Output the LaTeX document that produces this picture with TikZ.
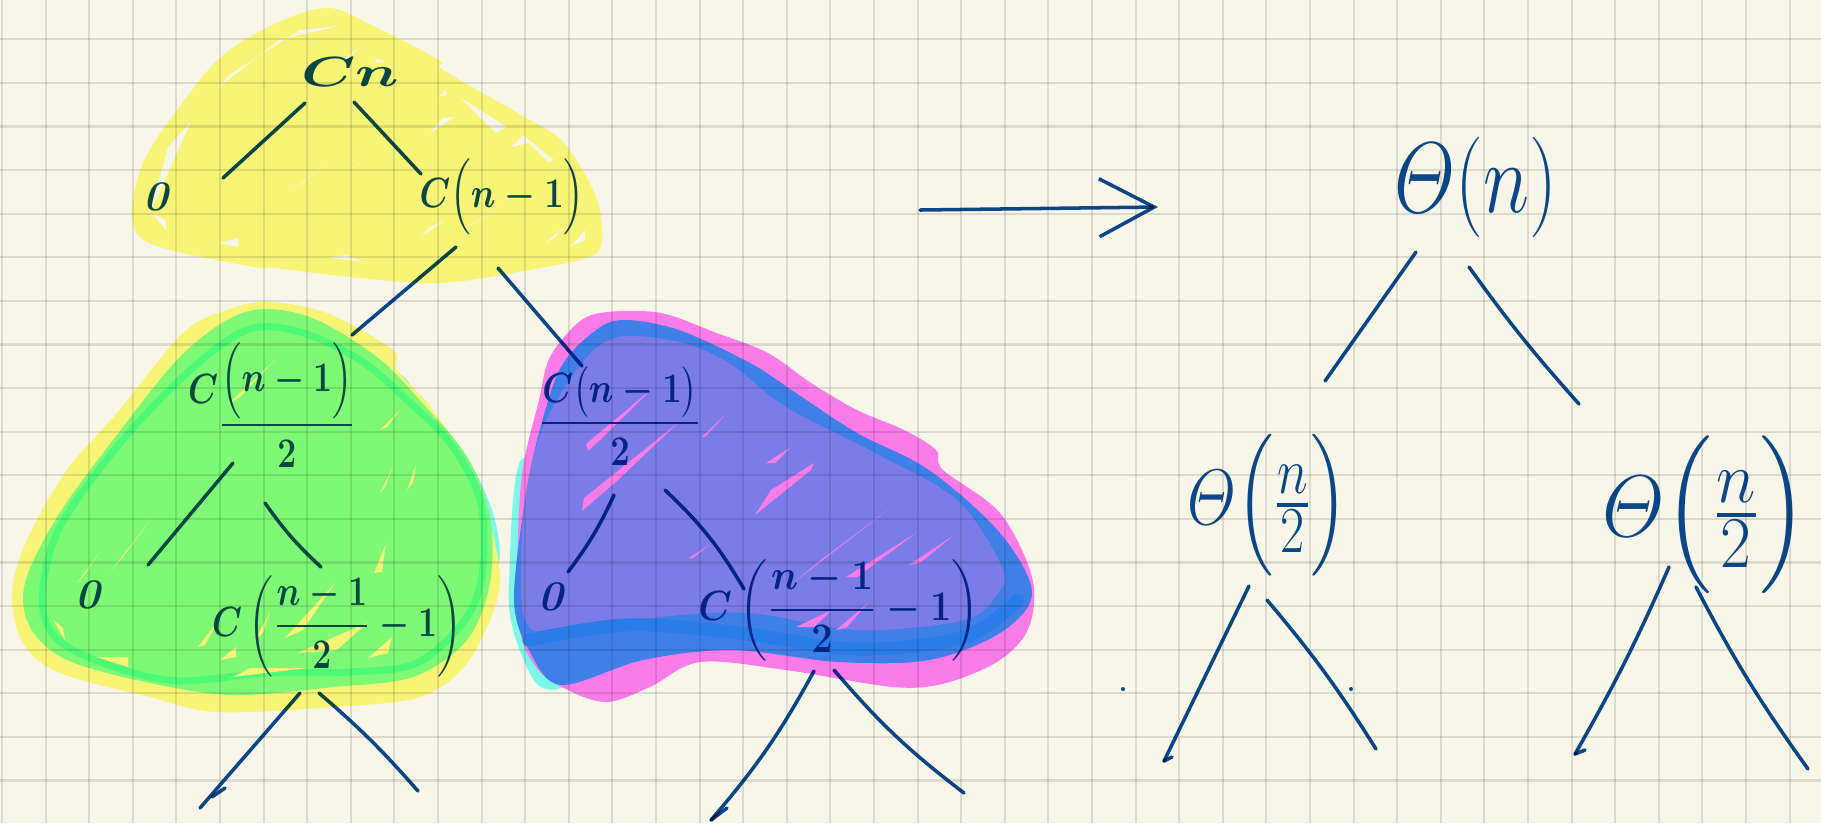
\documentclass[tikz,border=0pt]{standalone}
\usepackage{amsmath}
\usepackage{xcolor}
\usetikzlibrary{arrows.meta, calc}
\definecolor{papel}{HTML}{F8F5E9}
\definecolor{tinta}{HTML}{0C4A94}
\definecolor{amarillo}{HTML}{F7F476}
\definecolor{verde}{HTML}{7DF975}
\definecolor{verdeborde}{HTML}{4EF976}
\definecolor{cian}{HTML}{7CF7E8}
\definecolor{rosa}{HTML}{F97CE8}
\definecolor{azulborde}{HTML}{3F7FE8}
\definecolor{azul}{HTML}{7B7CE8}
\definecolor{azulfuerte}{HTML}{2A7DE8}

\begin{document}
\begin{tikzpicture}[
        x=0.01cm,
        y=-0.01cm,
        rejilla/.style={
            black,
            opacity=0.11,
            line width=0.6pt
        },
        rama/.style={
            draw=tinta,
            line width=1pt,
            line cap=round
        },
        flecha/.style={
            rama,
            -{Straight Barb[length=5.5mm,width=5.8mm]}
        },
        letra/.style={
            text=tinta,
            inner sep=0pt,
            font=\large\boldmath
        },
        letragrande/.style={
            text=tinta,
            inner sep=0pt,
            font=\Huge
        },
        punto/.style={
            circle,
            fill=tinta,
            inner sep=0pt,
            minimum size=0.4mm
        }
    ]

    \useasboundingbox (0,0) rectangle (1821,823);
    \clip (0,0) rectangle (1821,823);
    \fill[papel] (0,0) rectangle (1821,823);

    \fill[amarillo] plot[smooth cycle, tension=0.55] coordinates {
        (329,8) (371,25) (439,60) (443,70) (521,115) (564,143) (596,197) (602,240) (589,257) (529,270)
        (439,283) (350,277) (275,268) (254,267) (154,245) (132,217) (143,163) (175,113) (221,57) (279,22)};
    \fill[papel]
        (218,88) -- (279,40) -- (339,26) -- (300,30) -- (229,75) -- cycle
        (150,213) -- (191,122) -- (168,147) -- cycle
        (152,213) -- (166,230) -- (166,220) -- cycle
        (218,243) -- (238,238) -- (238,247) -- cycle
        (329,258) -- (346,255) -- (364,262) -- cycle
        (291,192) -- (325,163) -- (304,182) -- cycle
        (348,173) -- (364,158) -- (354,168) -- cycle
        (430,133) -- (455,117) -- (443,118) -- cycle
        (461,98) -- (507,127) -- (496,133) -- (475,113) -- cycle
        (511,147) -- (523,135) -- (554,160) -- (548,162) -- (529,143) -- cycle
        (420,237) -- (446,220) -- (430,227) -- cycle
        (459,233) -- (500,205) -- (475,223) -- cycle
        (545,243) -- (564,227) -- (554,238) -- cycle
        (571,246) -- (585,230) -- (585,240) -- cycle
        (438,97) -- (446,90) -- (447,95) -- cycle
        (341,62) -- (360,47) -- (350,57) -- cycle
        (375,58) -- (386,62) -- (377,63) -- cycle;

    \fill[cian] plot[smooth cycle, tension=0.55] coordinates {
        (397,375) (420,397) (467,457) (495,520) (495,570) (440,560) (380,420)};
    \fill[amarillo] plot[smooth cycle, tension=0.55] coordinates {
        (267,302) (327,313) (393,350) (397,370) (433,410) (473,473) (497,553) (497,600) (467,663) (420,697)
        (333,707) (217,712) (150,697) (60,673) (23,643) (12,593) (27,540) (67,470) (117,413) (183,333) (227,310)};
    \fill[verde] plot[smooth cycle, tension=0.55] coordinates {
        (267,309) (317,320) (377,357) (417,397) (467,457) (490,517) (490,583) (467,640) (413,677) (333,687)
        (233,695) (150,683) (67,660) (30,627) (25,583) (57,517) (113,440) (177,360) (227,320)};
    \draw[verdeborde, line width=0.7mm, line join=round] plot[smooth cycle, tension=0.55] coordinates {
        (247,330) (300,332) (360,360) (407,400) (450,443) (480,500) (483,567) (467,617) (417,663) (350,672)
        (267,673) (167,680) (73,650) (43,610) (57,533) (117,447) (187,373)};
    \fill[verde] plot[smooth cycle, tension=0.55] coordinates {
        (255,338) (300,340) (355,367) (400,405) (445,448) (474,502) (477,565) (460,612) (412,655) (350,663)
        (267,664) (167,672) (78,643) (50,608) (64,537) (122,452) (193,378)};
    \fill[amarillo]
        (77,583) -- (100,552) -- (83,577) -- cycle
        (110,572) -- (152,518) -- (123,557) -- cycle
        (227,405) -- (275,360) -- (240,397) -- cycle
        (380,430) -- (400,410) -- (387,427) -- cycle
        (380,493) -- (393,467) -- (385,487) -- cycle
        (407,490) -- (416,465) -- (413,483) -- cycle
        (374,573) -- (386,543) -- (382,572) -- cycle
        (198,647) -- (220,618) -- (205,645) -- cycle
        (220,660) -- (236,647) -- (236,657) -- cycle
        (255,640) -- (270,612) -- (263,633) -- cycle
        (285,638) -- (335,583) -- (303,630) -- cycle
        (297,653) -- (367,623) -- (337,650) -- cycle
        (368,658) -- (392,637) -- (388,653) -- cycle
        (233,677) -- (307,668) -- (250,668) -- cycle
        (53,620) -- (65,640) -- (63,628) -- cycle
        (97,657) -- (128,657) -- (128,667) -- cycle;

    \fill[cian] plot[smooth cycle, tension=0.55] coordinates {
        (521,460) (509,583) (514,633) (536,683) (561,688) (571,667) (571,500)};
    \fill[rosa] plot[smooth cycle, tension=0.55] coordinates {
        (607,312) (661,313) (714,332) (768,353) (811,383) (857,410) (904,430) (936,450) (943,470) (1000,513)
        (1032,577) (1029,627) (1000,660) (946,683) (893,687) (786,670) (700,662) (650,687) (607,702) (568,690)
        (536,667) (518,617) (521,483) (539,400) (550,357) (579,322)};
    \fill[azulborde] plot[smooth cycle, tension=0.55] coordinates {
        (625,320) (679,330) (750,363) (796,393) (857,433) (929,470) (1000,533) (1032,593) (1000,633) (929,660)
        (839,662) (732,650) (643,660) (561,685) (529,650) (514,600) (525,500) (539,433) (561,367) (596,330)};
    \fill[azul] plot[smooth cycle, tension=0.55] coordinates {
        (618,337) (679,342) (729,363) (786,407) (875,453) (957,500) (1002,567) (998,593) (964,620) (857,630)
        (750,613) (661,617) (554,633) (525,620) (521,567) (525,500) (543,427) (582,363)};
    \draw[azulfuerte, line width=1.3mm, line cap=round] plot[smooth, tension=0.55] coordinates {
        (529,640) (625,625) (732,632) (857,649) (964,637) (1018,600)};
    \fill[rosa]
        (588,451) -- (586,444) -- (654,387) -- (600,440) -- cycle
        (582,511) -- (584,498) -- (679,422) -- (618,480) -- cycle
        (755,515) -- (771,490) -- (814,463) -- (811,470) -- cycle
        (766,463) -- (791,447) -- (775,463) -- cycle
        (793,583) -- (888,510) -- (821,560) -- cycle
        (846,577) -- (916,533) -- (857,577) -- cycle
        (909,565) -- (954,535) -- (920,563) -- cycle
        (702,437) -- (725,415) -- (705,437) -- cycle
        (689,558) -- (709,545) -- (693,558) -- cycle
        (796,627) -- (832,610) -- (814,627) -- cycle
        (836,630) -- (868,603) -- (846,628) -- cycle;

    \foreach \i in {0,...,41} {
        \draw[rejilla] ({2+43.6*\i},0) -- ({2+43.6*\i},823);
    }
    \foreach \i in {1,...,18} {
        \draw[rejilla] (0,{-4.3+43.6*\i}) -- (1821,{-4.3+43.6*\i});
    }

    \begin{scope}[blend mode=multiply]

    \node[letra, xscale=1.45] (cn) at (350,72) {$Cn$};
    \node[letra] (ceroa) at (158,197) {$\mathit{0}$};
    \node[letra, xscale=0.82] (cresta) at (502,197) {$C\Big(n-1\Big)$};
    \node[letra, xscale=0.8] (mitada) at (272,405) {$\raisebox{9pt}{$C$}\dfrac{\Big(n-1\Big)}{2}$};
    \node[letra, xscale=0.82] (mitadb) at (620,416) {$\dfrac{C\big(n-1\big)}{2}$};
    \node[letra] (cerob) at (90,595) {$\mathit{0}$};
    \node[letra] (ceroc) at (553,597) {$\mathit{0}$};
    \node[letra, xscale=0.8] (restaa) at (337,626) {$C\left(\dfrac{n-1}{2}-1\right)$};
    \node[letra, xscale=0.9] (restab) at (839,610) {$C\left(\dfrac{n-1}{2}-1\right)$};

    \node[letragrande, yscale=1.15, xscale=0.9] (tn) at (1476,187) {$\varTheta(n)$};
    \node[letragrande, xscale=0.72, yscale=0.9] (tizq) at (1268,505) {$\varTheta\Big(\frac{n}{2}\Big)$};
    \node[letragrande, xscale=0.92] (tder) at (1705,515) {$\varTheta\Big(\frac{n}{2}\Big)$};

    \coordinate (hojaa) at (200,808);
    \coordinate (hojab) at (418,791);
    \coordinate (hojac) at (711,820);
    \coordinate (hojad) at (964,793);
    \coordinate (hojae) at (1164,761);
    \coordinate (hojaf) at (1376,749);
    \coordinate (hojag) at (1575,754);
    \coordinate (hojah) at (1808,769);
    \coordinate (inicio) at (920,210);
    \coordinate (punta) at (1158,207);

    \draw[rama] ($(cn)+(-45,31)$) -- ($(ceroa)+(65,-19)$);
    \draw[rama] ($(cn)+(4,30)$) -- ($(cresta)+(-81,-23)$);
    \draw[rama] ($(cresta)+(-46,50)$) -- ($(mitada)+(80,-70)$);
    \draw[rama] ($(cresta)+(-4,71)$) -- ($(mitadb)+(-38,-50)$);
    \draw[rama] ($(mitada)+(-39,58)$) -- ($(cerob)+(58,-30)$);
    \draw[rama] ($(mitada)+(-7,98)$) to[bend right=6] ($(restaa)+(-16,-59)$);
    \draw[rama] ($(mitadb)+(-6,79)$) to[bend left=6] ($(ceroc)+(15,-25)$);
    \draw[rama] ($(mitadb)+(45,74)$) to[bend left=8] ($(restab)+(-95,-21)$);
    \draw[rama] ($(restaa)+(-37,67)$) -- (hojaa);
    \draw[rama] ($(hojaa)+(12,-11)$) -- ($(hojaa)+(25,-20)$);
    \draw[rama] ($(restaa)+(-18,67)$) to[bend left=4] (hojab);
    \draw[rama] ($(restab)+(-25,61)$) to[bend left=6] (hojac);
    \draw[rama] (hojac) -- ($(hojac)+(16,-12)$);
    \draw[rama] ($(restab)+(-5,60)$) to[bend right=6] (hojad);

    \draw[rama] ($(tn)+(-60,65)$) -- ($(tizq)+(57,-124)$);
    \draw[rama] ($(tn)+(-7,80)$) to[bend right=3] ($(tder)+(-126,-111)$);
    \draw[rama] ($(tizq)+(-19,81)$) -- (hojae);
    \draw[rama] (hojae) -- ($(hojae)+(8,-4)$);
    \draw[rama] ($(tizq)+(-1,95)$) to[bend left=4] (hojaf);
    \draw[rama] ($(tder)+(-36,52)$) to[bend left=3] (hojag);
    \draw[rama] (hojag) -- ($(hojag)+(10,-4)$);
    \draw[rama] ($(tder)+(-9,72)$) to[bend right=4] (hojah);

    \draw[flecha] (inicio) -- (punta);

    \node[punto] (puntoa) at (1123,689) {};
    \node[punto] (puntob) at (1351,689) {};

    \end{scope}

\end{tikzpicture}
\end{document}
